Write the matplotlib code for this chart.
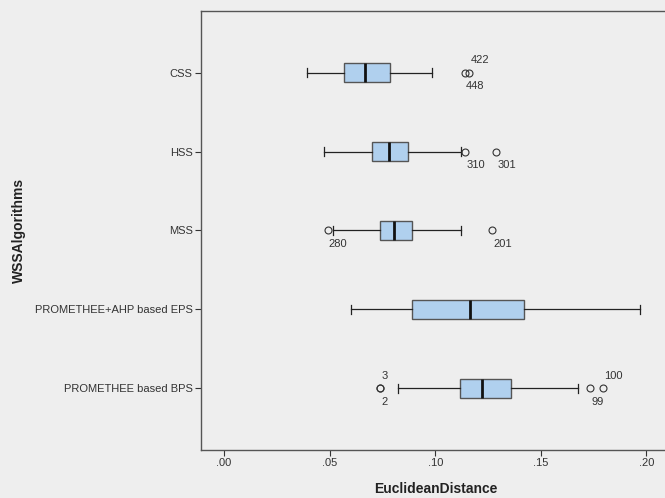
# Boxplot de distancia euclidiana por algoritmo WSS
import matplotlib.pyplot as plt

plt.rcParams['font.family'] = ['Liberation Sans', 'DejaVu Sans']

# Categorías (de arriba a abajo)
algoritmos = ["CSS", "HSS", "MSS", "PROMETHEE+AHP based EPS", "PROMETHEE based BPS"]

# Estadísticos
bigote_bajo = [0.0395, 0.0472, 0.0515, 0.0603, 0.0826]
q1 = [0.0567, 0.0701, 0.0737, 0.0892, 0.1119]
mediana = [0.0669, 0.0783, 0.0805, 0.1163, 0.1223]
q3 = [0.0788, 0.0873, 0.0890, 0.1422, 0.1361]
bigote_alto = [0.0987, 0.1124, 0.1120, 0.1970, 0.1675]

# Valores atípicos y sus etiquetas
atipicos = [[0.1140, 0.1160], [0.1140, 0.1290], [0.0490, 0.1270], [], [0.0739, 0.0739, 0.1735, 0.1795]]
etiquetas = [["448", "422"], ["310", "301"], ["280", "201"], [], ["2", "3", "99", "100"]]
lado = [["abajo", "arriba"], ["abajo", "abajo"], ["abajo", "abajo"], [], ["abajo", "arriba", "abajo", "arriba"]]

ticks_x = [0.00, 0.05, 0.10, 0.15, 0.20]
ticks_x_txt = [".00", ".05", ".10", ".15", ".20"]

# Construimos estadísticos para bxp
stats = []
for i in range(len(algoritmos)):
    stats.append({
        "whislo": bigote_bajo[i], "q1": q1[i], "med": mediana[i],
        "q3": q3[i], "whishi": bigote_alto[i], "fliers": atipicos[i],
    })

fondo = "#eeeeee"
fig = plt.figure(figsize=(6.65, 4.98), dpi=100, facecolor=fondo)
ax = fig.add_axes([201 / 665, 48 / 498, 464 / 665, 439 / 498], facecolor=fondo)

pos = list(range(len(algoritmos)))
ax.bxp(stats, positions=pos, orientation="horizontal", widths=0.25,
       capwidths=0.11, patch_artist=True, showfliers=True,
       boxprops=dict(facecolor="#b0d0ee", edgecolor="#555555", linewidth=1.0),
       medianprops=dict(color="#111111", linewidth=2.0),
       whiskerprops=dict(color="#222222", linewidth=0.9),
       capprops=dict(color="#222222", linewidth=0.9),
       flierprops=dict(marker="o", markerfacecolor="none", markeredgecolor="#333333",
                       markersize=5, markeredgewidth=0.8))

# Etiquetas de atípicos
for i in range(len(algoritmos)):
    for v, t, s in zip(atipicos[i], etiquetas[i], lado[i]):
        dy = 9 if s == "arriba" else -10
        ax.annotate(t, xy=(v, pos[i]), xytext=(1, dy), textcoords="offset points",
                    ha="left", va="center", fontsize=8, color="#333333")

ax.set_xlim(-0.0109, 0.2088)
ax.set_ylim(4.78, -0.78)
ax.set_yticks(pos)
ax.set_yticklabels(algoritmos, fontsize=8, color="#333333")
ax.set_xticks(ticks_x)
ax.set_xticklabels(ticks_x_txt, fontsize=8, color="#333333")
ax.tick_params(axis="both", direction="out", length=4, width=0.8, color="#333333", pad=2)

for lado_spine in ["left", "bottom", "top"]:
    ax.spines[lado_spine].set_color("#555555")
    ax.spines[lado_spine].set_linewidth(1.0)
ax.spines["right"].set_visible(False)

ax.set_xlabel("EuclideanDistance", fontsize=10, fontweight="bold", color="#222222")
ax.xaxis.set_label_coords(0.507, -0.072)
ax.set_ylabel("WSSAlgorithms", fontsize=10, fontweight="bold", color="#222222")
ax.yaxis.set_label_coords(-0.377, 0.5)

fig.savefig("out.png", dpi=100, facecolor=fondo)
